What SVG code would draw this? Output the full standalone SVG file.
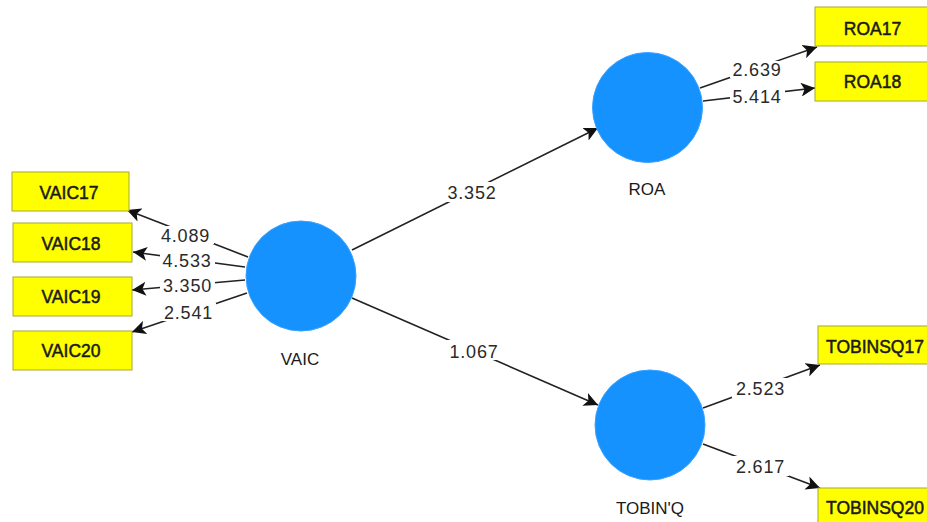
<svg xmlns="http://www.w3.org/2000/svg" width="927" height="522" viewBox="0 0 927 522">
<style>
.lat{fill:#1592fe;stroke:#3aa2ff;stroke-width:1}
.ind{fill:#ffff00;stroke:#a8a832;stroke-width:1}
.t{font-family:"Liberation Sans",Arial,sans-serif;font-size:17px;fill:#1a1a1a;text-anchor:middle}
.b{font-family:"Liberation Sans",Arial,sans-serif;font-size:17.5px;fill:#1a1a1a;stroke:#1a1a1a;stroke-width:0.5;text-anchor:middle}
.n{font-family:"Liberation Sans",Arial,sans-serif;font-size:18px;fill:#2a2a2a;text-anchor:middle;letter-spacing:0.8px}
.e{stroke:#222;stroke-width:1.6;fill:none;marker-end:url(#arr)}
.bg{fill:#fff}
</style>
<defs>
<marker id="arr" markerUnits="userSpaceOnUse" markerWidth="15" markerHeight="14" refX="14" refY="7" orient="auto">
<path d="M0,0 L14,7 L0,14 L3.5,7 z" fill="#111"/>
</marker>
</defs>
<rect width="927" height="522" fill="#fff"/>
<g id="connectors">
<line class="e" x1="248" y1="257" x2="127" y2="210"/>
<line class="e" x1="245" y1="267" x2="133" y2="252"/>
<line class="e" x1="245" y1="280" x2="132" y2="290"/>
<line class="e" x1="247" y1="293" x2="132" y2="332"/>
<line class="e" x1="352" y1="250" x2="598" y2="128"/>
<line class="e" x1="352" y1="298" x2="598" y2="405"/>
<line class="e" x1="700" y1="88" x2="817" y2="47"/>
<line class="e" x1="703" y1="101" x2="815" y2="88"/>
<line class="e" x1="703" y1="408" x2="820" y2="365"/>
<line class="e" x1="703" y1="444" x2="820" y2="488"/>
<g id="edge-labels">
<rect class="bg" x="158" y="226" width="56" height="18"/>
<rect class="bg" x="160" y="251" width="55" height="17"/>
<rect class="bg" x="160" y="277" width="55" height="17"/>
<rect class="bg" x="161" y="303" width="55" height="18"/>
<rect class="bg" x="442" y="182" width="60" height="20"/>
<rect class="bg" x="444" y="340" width="60" height="20"/>
<rect class="bg" x="730" y="61" width="55" height="17"/>
<rect class="bg" x="730" y="88" width="55" height="17"/>
<rect class="bg" x="732" y="378" width="57" height="20"/>
<rect class="bg" x="732" y="456" width="57" height="20"/>
<text class="n" x="185.5" y="242">4.089</text>
<text class="n" x="187" y="267">4.533</text>
<text class="n" x="187.5" y="292">3.350</text>
<text class="n" x="188.5" y="319">2.541</text>
<text class="n" x="472" y="199">3.352</text>
<text class="n" x="474" y="358">1.067</text>
<text class="n" x="757" y="76">2.639</text>
<text class="n" x="757" y="103">5.414</text>
<text class="n" x="760.5" y="395">2.523</text>
<text class="n" x="760.5" y="473">2.617</text>
</g>
</g>
<g id="VAIC">
<circle class="lat" cx="301" cy="276" r="55"/>
<text class="t" x="300" y="365">VAIC</text>
</g>
<g id="ROA">
<circle class="lat" cx="647.5" cy="107.5" r="55"/>
<text class="t" x="647" y="195">ROA</text>
</g>
<g id="TOBINQ">
<circle class="lat" cx="650" cy="425" r="55"/>
<text class="t" x="650" y="514">TOBIN'Q</text>
</g>
<g id="VAIC17">
<rect class="ind" x="12" y="172" width="117" height="39"/>
<text class="b" x="69" y="199">VAIC17</text>
</g>
<g id="VAIC18">
<rect class="ind" x="13" y="223" width="119" height="39"/>
<text class="b" x="71" y="250">VAIC18</text>
</g>
<g id="VAIC19">
<rect class="ind" x="13" y="277" width="119" height="39"/>
<text class="b" x="71" y="303">VAIC19</text>
</g>
<g id="VAIC20">
<rect class="ind" x="13" y="331" width="119" height="39"/>
<text class="b" x="71" y="357">VAIC20</text>
</g>
<g id="ROA17">
<rect class="ind" x="815" y="7" width="115" height="39"/>
<text class="b" x="872.5" y="35">ROA17</text>
</g>
<g id="ROA18">
<rect class="ind" x="815" y="62" width="115" height="39"/>
<text class="b" x="872.5" y="88">ROA18</text>
</g>
<g id="TOBINSQ17">
<rect class="ind" x="818" y="326" width="118" height="38"/>
<text class="b" x="875" y="353">TOBINSQ17</text>
</g>
<g id="TOBINSQ20">
<rect class="ind" x="818" y="488" width="118" height="40"/>
<text class="b" x="875" y="514">TOBINSQ20</text>
</g>
</svg>
